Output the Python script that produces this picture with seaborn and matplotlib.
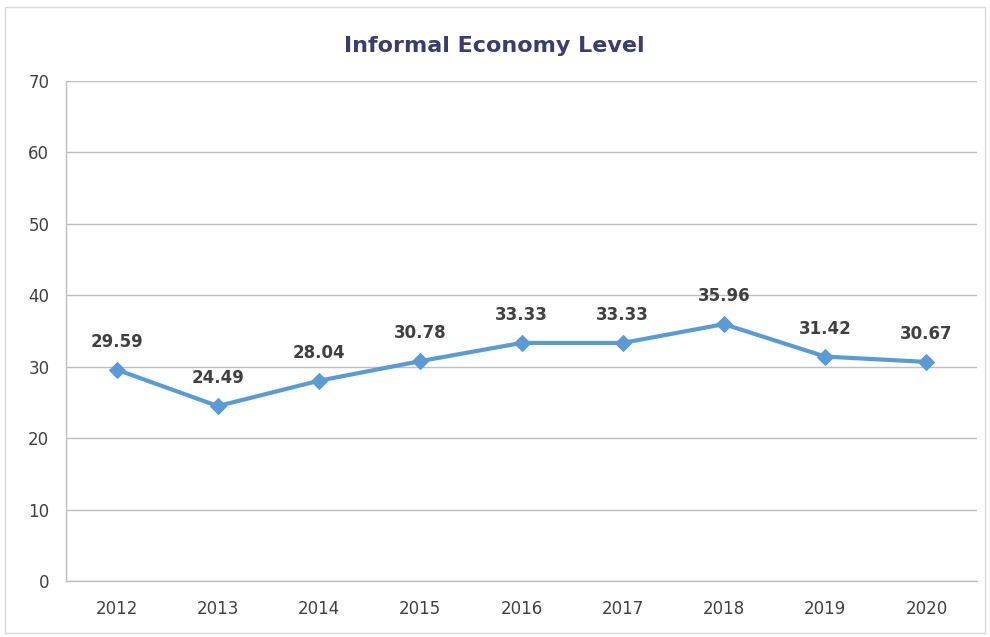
import matplotlib
matplotlib.use('Agg')
import matplotlib.pyplot as plt
import seaborn as sns
import pandas as pd
from matplotlib.patches import Rectangle

# chart data
years = ['2012', '2013', '2014', '2015', '2016', '2017', '2018', '2019', '2020']
levels = [29.59, 24.49, 28.04, 30.78, 33.33, 33.33, 35.96, 31.42, 30.67]

df = pd.DataFrame({'Year': years, 'Level': levels})
df['pos'] = range(len(years))

sns.set_style('white')
plt.rcParams['font.family'] = ['DejaVu Sans']

fig = plt.figure(figsize=(9.9, 6.37), dpi=100)
ax = fig.add_axes([66 / 990, 1 - 581 / 637, 911 / 990, 500 / 637])

line_color = '#5B9BD5'
sns.lineplot(data=df, x='pos', y='Level', ax=ax, color=line_color,
             linewidth=3, marker='D', markersize=8.5, markeredgecolor=line_color)

# data labels
for x, y in zip(df['pos'], df['Level']):
    ax.annotate(f'{y:.2f}', (x, y), xytext=(0, 20), textcoords='offset points',
                ha='center', va='center', fontsize=12, fontweight='bold', color='#404040')

ax.set_xlim(-0.5, len(years) - 0.5)
ax.set_ylim(0, 70)
ax.set_yticks(range(0, 71, 10))
ax.set_xticks(df['pos'])
ax.set_xticklabels(years)
ax.set_xticks([i - 0.5 for i in range(len(years) + 1)], minor=True)
ax.tick_params(axis='x', which='major', length=0, pad=14, labelsize=12, labelcolor='#404040')
ax.tick_params(axis='x', which='minor', length=6, width=1, color='#BFBFBF', direction='out')
ax.tick_params(axis='y', which='major', length=6, width=1, color='#BFBFBF', direction='out',
               pad=6, labelsize=12, labelcolor='#404040')

ax.grid(axis='y', color='#BFBFBF', linewidth=1)
ax.set_axisbelow(True)
for side in ['top', 'right']:
    ax.spines[side].set_visible(False)
for side in ['left', 'bottom']:
    ax.spines[side].set_color('#BFBFBF')
    ax.spines[side].set_linewidth(1)

ax.set_xlabel('')
ax.set_ylabel('')

fig.text(494 / 990, 1 - 46 / 637, 'Informal Economy Level', ha='center', va='center',
         fontsize=16, fontweight='bold', color='#3B3B6E')

# outer chart border
fig.patches.append(Rectangle((5 / 990, 4 / 637), 980 / 990, 626 / 637, transform=fig.transFigure,
                             fill=False, edgecolor='#D9D9D9', linewidth=1))

fig.savefig('out.png', dpi=100)
